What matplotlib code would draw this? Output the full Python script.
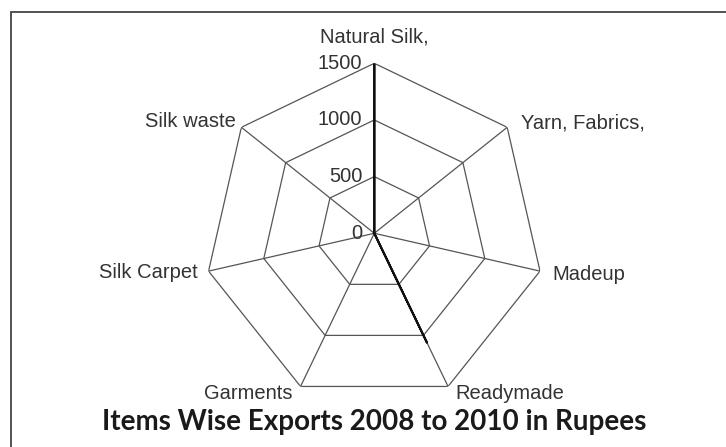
import matplotlib.pyplot as plt
import numpy as np
from matplotlib.patches import Rectangle

categories = ["Natural Silk,", "Yarn, Fabrics,", "Madeup", "Readymade",
              "Garments", "Silk Carpet", "Silk waste"]
exports = [1490, 0, 0, 1070, 0, 0, 0]
ring_values = [500, 1000, 1500]
tick_labels = ["0", "500", "1000", "1500"]
r_max = 1500

# pixel offsets (dx, dy) and alignment for each spoke label
label_place = [
    ((0, 17), "center", "bottom"),
    ((14, 4), "left", "center"),
    ((12, -3), "left", "center"),
    ((7, -7), "left", "center"),
    ((-8, -7), "right", "center"),
    ((-11, -1), "right", "center"),
    ((-6, 6), "right", "center"),
]


def draw_web(ax, angles):
    closed = np.append(angles, angles[0])
    for r in ring_values:
        ax.plot(closed, [r] * len(closed), color="#555555", lw=0.9, zorder=1)
    for a in angles:
        ax.plot([a, a], [0, r_max], color="#555555", lw=0.9, zorder=1)


def main():
    plt.rcParams["font.family"] = ["Liberation Sans", "DejaVu Sans"]
    fig = plt.figure(figsize=(7.26, 4.47), dpi=100)
    fig.patch.set_facecolor("white")

    ax = fig.add_axes([0.2814, 0.0978, 0.4683, 0.7606], projection="polar")
    ax.set_theta_zero_location("N")
    ax.set_theta_direction(-1)
    ax.set_ylim(0, r_max)
    ax.grid(False)
    ax.spines["polar"].set_visible(False)
    ax.set_xticks([])
    ax.set_yticks([])
    ax.patch.set_alpha(0)

    angles = np.linspace(0, 2 * np.pi, len(categories), endpoint=False)
    draw_web(ax, angles)

    closed_a = np.append(angles, angles[0])
    closed_v = exports + exports[:1]
    ax.plot(closed_a, closed_v, color="#111111", lw=1.5, zorder=3)

    for a, name, (off, ha, va) in zip(angles, categories, label_place):
        ax.annotate(name, xy=(a, r_max), xytext=off, textcoords="offset pixels",
                    ha=ha, va=va, fontsize=14.5, color="#333333",
                    annotation_clip=False)

    for val, txt in zip([0] + ring_values, tick_labels):
        ax.annotate(txt, xy=(0, val), xytext=(-12, 0), textcoords="offset pixels",
                    ha="right", va="center", fontsize=14.5, color="#333333",
                    annotation_clip=False)

    fig.text(0.5156, 1 - 422 / 447, "Items Wise Exports 2008 to 2010 in Rupees",
             ha="center", va="center", fontsize=20, fontweight="bold",
             family=["Lato", "DejaVu Sans"], color="#1a1a1a")

    frame = Rectangle((11 / 726, -0.2), 1.2, 1.2 - 12 / 447, transform=fig.transFigure,
                      fill=False, edgecolor="#444444", lw=1.3, clip_on=False)
    fig.add_artist(frame)

    fig.savefig("out.png", dpi=100)


if __name__ == "__main__":
    main()
